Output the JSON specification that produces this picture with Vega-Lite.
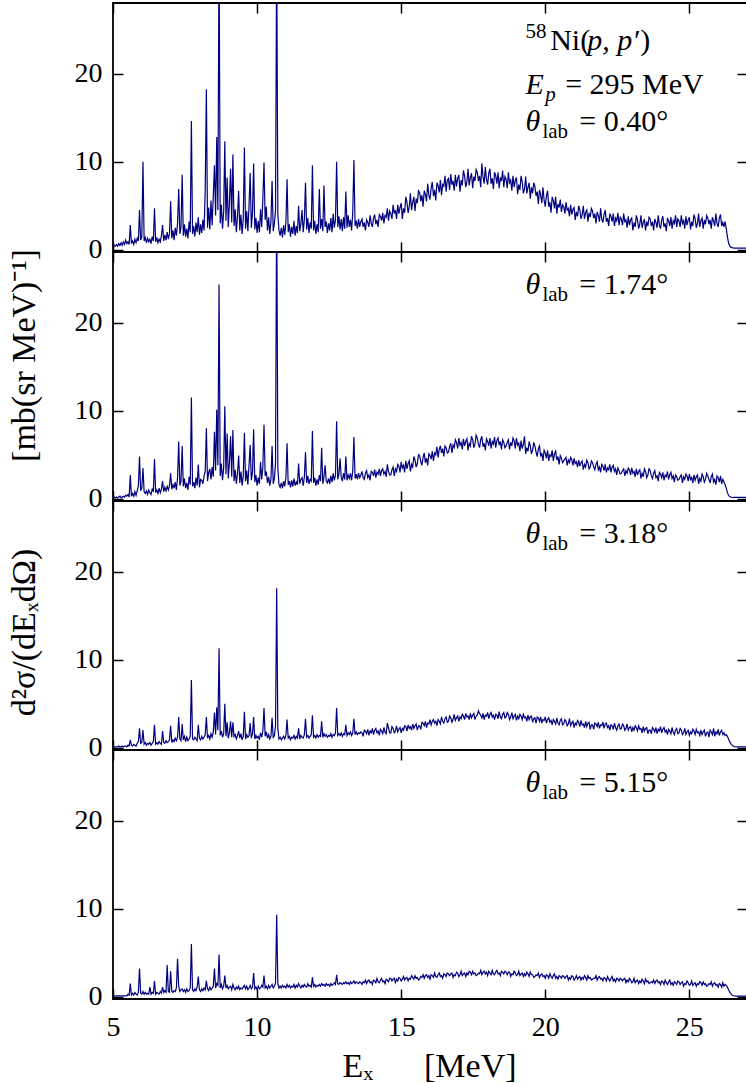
{
"$schema": "https://vega.github.io/schema/vega-lite/v6.json",
"padding": {"left": 6, "top": 1, "right": 1, "bottom": 0},
"bounds": "flush",
"spacing": 0,
"config": {
"font": "Liberation Serif",
"view": {"stroke": "#000", "strokeWidth": 1.8},
"style": {"guide-label": {"font": "Liberation Serif"}, "guide-title": {"font": "Liberation Serif"}},
"axis": {"domain": false, "grid": false, "tickSize": -10, "tickWidth": 1.5, "tickColor": "#000", "labelFont": "Liberation Serif", "labelFontSize": 28, "labelColor": "#000", "labelFlush": false, "titleFont": "Liberation Serif", "titleFontSize": 34, "titleFontWeight": "normal", "titleColor": "#000"},
"text": {"font": "Liberation Serif", "fontSize": 30, "align": "left", "baseline": "alphabetic", "color": "#000"}
},
"datasets": {
"spec": [
{"E":5.00,"a":0.3,"b":0.1,"c":0.1,"d":0.1},{"E":5.04,"a":0.5,"b":0.2,"c":0.1,"d":0.1},{"E":5.08,"a":0.4,"b":0.1,"c":0.1,"d":0.1},{"E":5.12,"a":0.6,"b":0.2,"c":0.1,"d":0.1},{"E":5.16,"a":0.4,"b":0.1,"c":0.1,"d":0.1},{"E":5.20,"a":0.7,"b":0.2,"c":0.2,"d":0.1},{"E":5.24,"a":0.5,"b":0.3,"c":0.1,"d":0.1},{"E":5.28,"a":0.8,"b":0.1,"c":0.1,"d":0.1},{"E":5.32,"a":0.5,"b":0.2,"c":0.2,"d":0.1},{"E":5.36,"a":0.9,"b":0.3,"c":0.1,"d":0.1},
{"E":5.40,"a":0.6,"b":0.2,"c":0.2,"d":0.1},{"E":5.44,"a":1.1,"b":0.4,"c":0.2,"d":0.1},{"E":5.48,"a":0.7,"b":0.3,"c":0.1,"d":0.1},{"E":5.52,"a":0.9,"b":0.5,"c":0.3,"d":0.3},{"E":5.56,"a":0.6,"b":0.2,"c":0.2,"d":0.2},{"E":5.60,"a":2.8,"b":2.7,"c":0.9,"d":1.5},{"E":5.64,"a":0.7,"b":0.3,"c":0.3,"d":0.2},{"E":5.68,"a":1.0,"b":0.6,"c":0.2,"d":0.4},{"E":5.72,"a":0.6,"b":0.3,"c":0.4,"d":0.2},{"E":5.76,"a":1.2,"b":0.8,"c":0.3,"d":0.5},
{"E":5.80,"a":0.8,"b":0.4,"c":0.2,"d":0.3},{"E":5.84,"a":1.3,"b":0.9,"c":0.5,"d":0.2},{"E":5.88,"a":1.0,"b":1.5,"c":0.7,"d":0.5},{"E":5.92,"a":4.5,"b":4.8,"c":2.2,"d":3.2},{"E":5.96,"a":1.1,"b":0.9,"c":0.5,"d":0.4},{"E":6.00,"a":1.5,"b":1.2,"c":0.6,"d":0.3},{"E":6.04,"a":10.0,"b":3.5,"c":2.0,"d":0.6},{"E":6.08,"a":1.0,"b":0.8,"c":0.4,"d":0.3},{"E":6.12,"a":1.4,"b":0.6,"c":0.6,"d":0.5},{"E":6.16,"a":0.8,"b":0.9,"c":0.3,"d":0.3},
{"E":6.20,"a":1.3,"b":0.5,"c":0.5,"d":0.4},{"E":6.24,"a":0.9,"b":1.0,"c":0.4,"d":0.3},{"E":6.28,"a":1.2,"b":0.7,"c":0.6,"d":1.1},{"E":6.32,"a":0.7,"b":0.5,"c":0.3,"d":0.3},{"E":6.36,"a":1.5,"b":1.1,"c":0.5,"d":0.5},{"E":6.40,"a":1.0,"b":0.8,"c":0.7,"d":0.4},{"E":6.44,"a":4.7,"b":4.5,"c":2.6,"d":1.8},{"E":6.48,"a":0.9,"b":0.7,"c":0.4,"d":0.3},{"E":6.52,"a":1.4,"b":1.0,"c":0.6,"d":0.5},{"E":6.56,"a":0.8,"b":0.6,"c":0.4,"d":0.4},
{"E":6.60,"a":1.2,"b":1.2,"c":0.7,"d":0.3},{"E":6.64,"a":0.9,"b":0.7,"c":0.5,"d":0.6},{"E":6.68,"a":1.6,"b":1.1,"c":0.4,"d":0.4},{"E":6.72,"a":2.8,"b":2.0,"c":1.9,"d":1.1},{"E":6.76,"a":1.0,"b":0.8,"c":0.6,"d":0.5},{"E":6.80,"a":1.7,"b":1.3,"c":0.5,"d":0.7},{"E":6.84,"a":1.1,"b":0.9,"c":0.8,"d":0.5},{"E":6.88,"a":2.0,"b":1.4,"c":0.6,"d":3.6},{"E":6.92,"a":1.2,"b":1.0,"c":0.7,"d":0.6},{"E":6.96,"a":1.8,"b":1.5,"c":0.9,"d":0.5},
{"E":7.00,"a":5.5,"b":2.9,"c":2.5,"d":2.9},{"E":7.04,"a":1.3,"b":1.1,"c":0.6,"d":0.6},{"E":7.08,"a":2.2,"b":1.6,"c":0.9,"d":0.5},{"E":7.12,"a":1.1,"b":1.2,"c":0.7,"d":0.7},{"E":7.16,"a":2.5,"b":1.9,"c":1.1,"d":0.6},{"E":7.20,"a":1.6,"b":1.0,"c":0.8,"d":1.0},{"E":7.24,"a":3.0,"b":2.4,"c":1.2,"d":4.3},{"E":7.28,"a":6.9,"b":6.5,"c":3.5,"d":1.2},{"E":7.32,"a":1.8,"b":1.5,"c":1.0,"d":0.6},{"E":7.36,"a":2.6,"b":2.0,"c":0.8,"d":0.8},
{"E":7.40,"a":8.5,"b":6.0,"c":2.7,"d":0.9},{"E":7.44,"a":1.6,"b":1.4,"c":0.9,"d":0.6},{"E":7.48,"a":2.9,"b":2.3,"c":1.3,"d":0.8},{"E":7.52,"a":1.5,"b":1.2,"c":0.7,"d":0.5},{"E":7.56,"a":2.4,"b":1.8,"c":1.2,"d":0.9},{"E":7.60,"a":1.3,"b":1.0,"c":0.8,"d":0.6},{"E":7.64,"a":3.2,"b":2.5,"c":1.0,"d":0.7},{"E":7.68,"a":2.0,"b":1.6,"c":1.3,"d":1.0},{"E":7.72,"a":14.6,"b":11.5,"c":7.7,"d":6.0},{"E":7.76,"a":1.8,"b":1.4,"c":1.0,"d":0.8},
{"E":7.80,"a":2.7,"b":1.9,"c":0.9,"d":0.6},{"E":7.84,"a":1.5,"b":1.2,"c":1.2,"d":0.9},{"E":7.88,"a":3.1,"b":2.4,"c":1.0,"d":0.7},{"E":7.92,"a":2.0,"b":1.5,"c":0.8,"d":1.1},{"E":7.96,"a":3.7,"b":3.9,"c":2.6,"d":2.3},{"E":8.00,"a":1.7,"b":1.3,"c":1.1,"d":0.8},{"E":8.04,"a":2.9,"b":2.2,"c":0.9,"d":0.6},{"E":8.08,"a":1.9,"b":2.1,"c":1.3,"d":0.9},{"E":8.12,"a":3.4,"b":1.7,"c":1.0,"d":0.7},{"E":8.16,"a":2.2,"b":2.6,"c":1.2,"d":1.0},
{"E":8.20,"a":6.7,"b":3.1,"c":1.5,"d":0.8},{"E":8.24,"a":18.2,"b":8.0,"c":3.5,"d":1.8},{"E":8.28,"a":2.5,"b":2.0,"c":1.1,"d":0.9},{"E":8.32,"a":4.8,"b":3.0,"c":1.4,"d":0.7},{"E":8.36,"a":2.3,"b":3.4,"c":1.0,"d":1.1},{"E":8.40,"a":5.6,"b":2.2,"c":1.6,"d":0.8},{"E":8.44,"a":2.8,"b":3.6,"c":1.2,"d":1.0},{"E":8.48,"a":6.2,"b":2.5,"c":1.8,"d":1.2},{"E":8.52,"a":9.6,"b":7.6,"c":4.0,"d":3.2},{"E":8.56,"a":3.9,"b":3.2,"c":1.5,"d":1.0},
{"E":8.60,"a":12.8,"b":10.1,"c":4.6,"d":1.5},{"E":8.64,"a":4.5,"b":3.8,"c":2.0,"d":1.3},{"E":8.68,"a":35,"b":24.3,"c":11.3,"d":4.8},{"E":8.72,"a":3.0,"b":2.6,"c":1.4,"d":1.0},{"E":8.76,"a":5.1,"b":4.0,"c":1.9,"d":1.4},{"E":8.80,"a":2.4,"b":2.1,"c":1.2,"d":0.9},{"E":8.84,"a":4.3,"b":3.5,"c":1.6,"d":1.2},{"E":8.88,"a":12.3,"b":10.5,"c":5.0,"d":2.4},{"E":8.92,"a":3.3,"b":2.8,"c":1.3,"d":1.0},{"E":8.96,"a":8.2,"b":7.4,"c":2.9,"d":1.3},
{"E":9.00,"a":2.6,"b":2.3,"c":1.1,"d":0.9},{"E":9.04,"a":5.4,"b":4.1,"c":1.7,"d":1.1},{"E":9.08,"a":9.2,"b":7.1,"c":3.0,"d":1.2},{"E":9.12,"a":3.1,"b":2.5,"c":1.2,"d":0.8},{"E":9.16,"a":10.8,"b":7.8,"c":2.9,"d":1.4},{"E":9.20,"a":2.7,"b":2.0,"c":1.3,"d":1.0},{"E":9.24,"a":4.6,"b":3.3,"c":1.5,"d":0.8},{"E":9.28,"a":2.0,"b":1.7,"c":1.0,"d":1.1},{"E":9.32,"a":3.8,"b":2.9,"c":1.4,"d":0.9},{"E":9.36,"a":6.7,"b":4.9,"c":1.9,"d":1.2},
{"E":9.40,"a":2.2,"b":1.8,"c":1.1,"d":0.8},{"E":9.44,"a":4.0,"b":3.1,"c":1.6,"d":1.0},{"E":9.48,"a":1.8,"b":1.5,"c":0.9,"d":0.9},{"E":9.52,"a":3.5,"b":2.6,"c":1.3,"d":1.1},{"E":9.56,"a":11.6,"b":7.5,"c":4.1,"d":1.3},{"E":9.60,"a":2.4,"b":2.0,"c":1.0,"d":0.9},{"E":9.64,"a":4.4,"b":3.2,"c":1.5,"d":1.2},{"E":9.68,"a":2.1,"b":1.6,"c":1.2,"d":0.8},{"E":9.72,"a":5.0,"b":3.8,"c":1.4,"d":1.0},{"E":9.76,"a":8.7,"b":6.1,"c":2.8,"d":1.3},
{"E":9.80,"a":2.5,"b":2.1,"c":1.1,"d":0.9},{"E":9.84,"a":4.2,"b":3.0,"c":1.6,"d":1.1},{"E":9.88,"a":9.8,"b":7.9,"c":3.5,"d":2.7},{"E":9.92,"a":2.3,"b":1.9,"c":1.0,"d":0.9},{"E":9.96,"a":3.6,"b":2.7,"c":1.4,"d":1.1},{"E":10.00,"a":1.9,"b":1.5,"c":1.1,"d":0.8},{"E":10.04,"a":3.3,"b":2.4,"c":1.3,"d":1.2},{"E":10.08,"a":2.0,"b":1.7,"c":0.9,"d":0.9},{"E":10.12,"a":4.6,"b":4.2,"c":1.7,"d":1.0},{"E":10.16,"a":2.6,"b":2.2,"c":1.2,"d":1.3},
{"E":10.20,"a":5.8,"b":3.6,"c":1.9,"d":1.1},{"E":10.24,"a":9.9,"b":8.4,"c":4.5,"d":2.4},{"E":10.28,"a":3.4,"b":2.6,"c":1.3,"d":1.0},{"E":10.32,"a":4.9,"b":3.1,"c":1.8,"d":1.2},{"E":10.36,"a":2.2,"b":1.8,"c":1.1,"d":0.9},{"E":10.40,"a":3.7,"b":2.5,"c":1.5,"d":1.3},{"E":10.44,"a":1.8,"b":1.5,"c":1.0,"d":1.0},{"E":10.48,"a":3.2,"b":2.2,"c":1.3,"d":1.2},{"E":10.52,"a":7.8,"b":6.0,"c":3.4,"d":1.4},{"E":10.56,"a":2.1,"b":1.7,"c":1.1,"d":1.0},
{"E":10.60,"a":3.0,"b":2.3,"c":1.4,"d":1.2},{"E":10.64,"a":4.5,"b":4.0,"c":2.5,"d":1.6},{"E":10.68,"a":35,"b":35,"c":18.1,"d":9.3},{"E":10.72,"a":4.0,"b":3.5,"c":2.2,"d":1.5},{"E":10.76,"a":2.2,"b":1.6,"c":1.0,"d":1.0},{"E":10.80,"a":1.6,"b":1.3,"c":1.2,"d":1.2},{"E":10.84,"a":2.5,"b":1.8,"c":0.9,"d":1.0},{"E":10.88,"a":1.4,"b":1.2,"c":1.1,"d":1.3},{"E":10.92,"a":2.8,"b":2.0,"c":1.3,"d":1.1},{"E":10.96,"a":1.7,"b":1.4,"c":1.0,"d":1.2},
{"E":11.00,"a":3.1,"b":2.4,"c":1.4,"d":1.0},{"E":11.04,"a":8.0,"b":6.3,"c":3.2,"d":1.4},{"E":11.08,"a":2.0,"b":1.6,"c":1.1,"d":1.1},{"E":11.12,"a":2.9,"b":2.0,"c":1.3,"d":1.3},{"E":11.16,"a":1.5,"b":1.3,"c":0.9,"d":1.0},{"E":11.20,"a":2.6,"b":2.1,"c":1.2,"d":1.2},{"E":11.24,"a":1.8,"b":1.4,"c":1.1,"d":1.1},{"E":11.28,"a":3.3,"b":2.3,"c":1.4,"d":1.4},{"E":11.32,"a":1.6,"b":1.5,"c":1.0,"d":1.0},{"E":11.36,"a":2.7,"b":1.9,"c":1.3,"d":1.3},
{"E":11.40,"a":1.9,"b":1.6,"c":1.1,"d":1.1},{"E":11.44,"a":5.0,"b":4.0,"c":2.2,"d":1.5},{"E":11.48,"a":2.1,"b":1.7,"c":1.0,"d":1.2},{"E":11.52,"a":3.0,"b":2.2,"c":1.4,"d":1.0},{"E":11.56,"a":4.5,"b":2.4,"c":1.2,"d":1.3},{"E":11.60,"a":2.0,"b":1.5,"c":1.1,"d":1.1},{"E":11.64,"a":3.4,"b":2.5,"c":1.5,"d":1.4},{"E":11.68,"a":7.6,"b":5.3,"c":3.3,"d":1.2},{"E":11.72,"a":2.3,"b":1.8,"c":1.2,"d":1.1},{"E":11.76,"a":3.6,"b":2.6,"c":1.4,"d":1.5},
{"E":11.80,"a":1.9,"b":1.7,"c":1.1,"d":1.2},{"E":11.84,"a":3.1,"b":2.2,"c":1.3,"d":1.3},{"E":11.88,"a":2.4,"b":2.0,"c":1.5,"d":1.1},{"E":11.92,"a":9.6,"b":7.7,"c":3.7,"d":2.2},{"E":11.96,"a":2.2,"b":1.8,"c":1.2,"d":1.2},{"E":12.00,"a":3.3,"b":2.4,"c":1.4,"d":1.4},{"E":12.04,"a":1.8,"b":1.5,"c":1.1,"d":1.1},{"E":12.08,"a":2.9,"b":2.2,"c":1.5,"d":1.3},{"E":12.12,"a":2.0,"b":1.6,"c":1.2,"d":1.2},{"E":12.16,"a":6.9,"b":2.7,"c":1.4,"d":1.4},
{"E":12.20,"a":2.4,"b":2.0,"c":1.3,"d":1.2},{"E":12.24,"a":3.5,"b":5.8,"c":3.0,"d":1.5},{"E":12.28,"a":2.1,"b":1.7,"c":1.2,"d":1.3},{"E":12.32,"a":7.3,"b":2.5,"c":1.6,"d":1.4},{"E":12.36,"a":2.6,"b":3.8,"c":1.3,"d":1.2},{"E":12.40,"a":3.2,"b":2.0,"c":1.5,"d":1.5},{"E":12.44,"a":1.9,"b":1.8,"c":1.2,"d":1.3},{"E":12.48,"a":3.0,"b":2.3,"c":1.4,"d":1.4},{"E":12.52,"a":2.2,"b":1.7,"c":1.3,"d":1.2},{"E":12.56,"a":3.6,"b":2.6,"c":1.6,"d":1.5},
{"E":12.60,"a":2.0,"b":1.9,"c":1.2,"d":1.3},{"E":12.64,"a":4.1,"b":2.9,"c":1.5,"d":1.4},{"E":12.68,"a":2.5,"b":2.1,"c":1.4,"d":1.6},{"E":12.72,"a":3.4,"b":2.7,"c":1.7,"d":1.4},{"E":12.76,"a":10.0,"b":8.8,"c":4.5,"d":2.5},{"E":12.80,"a":2.6,"b":2.2,"c":1.4,"d":1.5},{"E":12.84,"a":3.8,"b":2.8,"c":1.6,"d":1.4},{"E":12.88,"a":2.3,"b":4.6,"c":1.4,"d":1.6},{"E":12.92,"a":3.5,"b":2.4,"c":1.7,"d":1.5},{"E":12.96,"a":2.1,"b":2.0,"c":1.3,"d":1.4},
{"E":13.00,"a":3.7,"b":2.9,"c":1.6,"d":1.6},{"E":13.04,"a":2.4,"b":2.2,"c":1.5,"d":1.5},{"E":13.08,"a":6.6,"b":4.8,"c":2.6,"d":1.7},{"E":13.12,"a":2.5,"b":2.1,"c":1.4,"d":1.5},{"E":13.16,"a":3.9,"b":2.7,"c":1.7,"d":1.6},{"E":13.20,"a":2.6,"b":2.3,"c":1.5,"d":1.4},{"E":13.24,"a":3.4,"b":2.9,"c":1.8,"d":1.7},{"E":13.28,"a":2.2,"b":2.1,"c":1.4,"d":1.5},{"E":13.32,"a":4.3,"b":3.2,"c":1.7,"d":1.6},{"E":13.36,"a":10.2,"b":7.0,"c":3.3,"d":1.8},
{"E":13.40,"a":2.7,"b":2.3,"c":1.5,"d":1.5},{"E":13.44,"a":3.3,"b":2.8,"c":1.8,"d":1.7},{"E":13.48,"a":2.4,"b":2.2,"c":1.5,"d":1.6},{"E":13.52,"a":3.5,"b":2.9,"c":1.7,"d":1.5},{"E":13.56,"a":2.6,"b":2.4,"c":1.6,"d":1.7},{"E":13.60,"a":3.2,"b":2.7,"c":1.8,"d":1.6},
{"E":13.64,"a":3.5,"b":3.1,"c":1.7,"d":1.4},{"E":13.68,"a":2.6,"b":2.4,"c":1.3,"d":1.7},{"E":13.72,"a":3.1,"b":2.2,"c":2.0,"d":1.6},{"E":13.76,"a":2.2,"b":2.9,"c":1.9,"d":1.9},{"E":13.80,"a":3.4,"b":3.2,"c":1.6,"d":1.5},{"E":13.84,"a":3.1,"b":2.4,"c":2.1,"d":1.8},{"E":13.88,"a":2.6,"b":2.7,"c":1.4,"d":1.9},{"E":13.92,"a":3.9,"b":2.1,"c":1.9,"d":1.6},{"E":13.96,"a":3.0,"b":3.1,"c":1.7,"d":1.7},{"E":14.00,"a":2.6,"b":3.0,"c":2.2,"d":1.4},
{"E":14.04,"a":3.6,"b":2.6,"c":1.5,"d":1.9},{"E":14.08,"a":4.0,"b":3.3,"c":2.0,"d":1.8},{"E":14.12,"a":2.9,"b":2.4,"c":2.2,"d":1.6},{"E":14.16,"a":3.4,"b":3.0,"c":1.7,"d":2.1},{"E":14.20,"a":2.6,"b":2.8,"c":1.9,"d":1.7},{"E":14.24,"a":4.0,"b":3.4,"c":1.4,"d":1.6},{"E":14.28,"a":3.8,"b":2.6,"c":2.1,"d":1.9},{"E":14.32,"a":3.3,"b":3.2,"c":1.9,"d":2.1},{"E":14.36,"a":4.2,"b":3.4,"c":1.6,"d":1.7},{"E":14.40,"a":3.0,"b":2.8,"c":2.3,"d":1.8},
{"E":14.44,"a":3.9,"b":3.1,"c":1.8,"d":1.5},{"E":14.48,"a":3.7,"b":2.5,"c":1.6,"d":2.0},{"E":14.52,"a":4.7,"b":3.9,"c":2.8,"d":1.9},{"E":14.56,"a":3.3,"b":3.1,"c":2.3,"d":1.7},{"E":14.60,"a":4.4,"b":2.7,"c":1.7,"d":2.1},{"E":14.64,"a":4.1,"b":2.7,"c":1.7,"d":2.1},{"E":14.68,"a":3.5,"b":3.3,"c":2.4,"d":1.8},{"E":14.72,"a":5.1,"b":3.6,"c":2.2,"d":2.0},{"E":14.76,"a":4.1,"b":2.6,"c":1.7,"d":2.1},{"E":14.80,"a":4.5,"b":3.4,"c":1.9,"d":1.6},
{"E":14.84,"a":3.5,"b":3.1,"c":2.5,"d":2.0},{"E":14.88,"a":5.1,"b":3.9,"c":1.8,"d":1.8},{"E":14.92,"a":4.1,"b":3.7,"c":2.1,"d":2.2},{"E":14.96,"a":4.8,"b":3.0,"c":2.3,"d":2.1},{"E":15.00,"a":5.3,"b":4.2,"c":1.7,"d":1.8},{"E":15.04,"a":3.5,"b":3.5,"c":2.2,"d":2.0},{"E":15.08,"a":4.7,"b":3.8,"c":2.0,"d":2.3},{"E":15.12,"a":4.2,"b":3.0,"c":2.5,"d":1.9},{"E":15.16,"a":6.0,"b":4.3,"c":2.4,"d":2.1},{"E":15.20,"a":5.4,"b":3.4,"c":1.9,"d":2.2},
{"E":15.24,"a":4.2,"b":4.0,"c":2.6,"d":1.8},{"E":15.28,"a":4.9,"b":4.3,"c":2.2,"d":2.1},{"E":15.32,"a":6.4,"b":3.1,"c":2.4,"d":2.0},{"E":15.36,"a":4.5,"b":3.9,"c":2.0,"d":2.4},{"E":15.40,"a":5.4,"b":3.6,"c":2.7,"d":2.2},{"E":15.44,"a":6.0,"b":4.8,"c":2.2,"d":2.0},{"E":15.48,"a":4.4,"b":4.4,"c":2.5,"d":2.4},{"E":15.52,"a":5.8,"b":3.6,"c":2.7,"d":2.1},{"E":15.56,"a":5.3,"b":4.0,"c":2.0,"d":2.2},{"E":15.60,"a":6.7,"b":5.0,"c":2.5,"d":1.9},
{"E":15.64,"a":6.5,"b":4.9,"c":2.5,"d":2.0},{"E":15.68,"a":5.5,"b":4.2,"c":2.1,"d":2.3},{"E":15.72,"a":6.2,"b":3.8,"c":2.9,"d":2.2},{"E":15.76,"a":4.9,"b":4.7,"c":2.8,"d":2.5},{"E":15.80,"a":6.7,"b":5.2,"c":2.5,"d":2.1},{"E":15.84,"a":6.3,"b":4.1,"c":3.0,"d":2.4},{"E":15.88,"a":5.5,"b":4.6,"c":2.3,"d":2.5},{"E":15.92,"a":7.5,"b":3.8,"c":2.8,"d":2.2},{"E":15.96,"a":6.2,"b":5.1,"c":2.7,"d":2.4},{"E":16.00,"a":5.7,"b":4.9,"c":3.2,"d":2.0},
{"E":16.04,"a":7.0,"b":4.5,"c":2.6,"d":2.5},{"E":16.08,"a":7.7,"b":5.4,"c":3.0,"d":2.4},{"E":16.12,"a":6.1,"b":4.3,"c":3.2,"d":2.2},{"E":16.16,"a":6.8,"b":5.2,"c":2.8,"d":2.7},{"E":16.20,"a":5.6,"b":5.0,"c":3.0,"d":2.3},{"E":16.24,"a":7.6,"b":5.9,"c":2.5,"d":2.2},{"E":16.28,"a":7.3,"b":4.7,"c":3.2,"d":2.5},{"E":16.32,"a":6.5,"b":5.6,"c":3.0,"d":2.7},{"E":16.36,"a":7.9,"b":6.0,"c":2.7,"d":2.3},{"E":16.40,"a":6.2,"b":5.2,"c":3.5,"d":2.4},
{"E":16.44,"a":7.4,"b":5.7,"c":3.0,"d":2.1},{"E":16.48,"a":7.2,"b":4.8,"c":2.8,"d":2.6},{"E":16.52,"a":8.4,"b":6.0,"c":3.3,"d":2.5},{"E":16.56,"a":6.6,"b":5.8,"c":3.5,"d":2.3},{"E":16.60,"a":7.9,"b":5.2,"c":2.9,"d":2.7},{"E":16.64,"a":8.1,"b":5.3,"c":3.0,"d":2.6},{"E":16.68,"a":6.8,"b":5.9,"c":3.6,"d":2.4},{"E":16.72,"a":8.6,"b":6.3,"c":3.4,"d":2.6},{"E":16.76,"a":7.4,"b":5.2,"c":2.9,"d":2.7},{"E":16.80,"a":7.8,"b":6.1,"c":3.2,"d":2.2},
{"E":16.84,"a":6.7,"b":5.8,"c":3.8,"d":2.5},{"E":16.88,"a":8.5,"b":6.7,"c":3.1,"d":2.4},{"E":16.92,"a":7.2,"b":6.4,"c":3.4,"d":2.8},{"E":16.96,"a":8.1,"b":5.7,"c":3.6,"d":2.7},{"E":17.00,"a":8.5,"b":6.9,"c":3.0,"d":2.3},{"E":17.04,"a":6.6,"b":6.1,"c":3.5,"d":2.5},{"E":17.08,"a":7.9,"b":6.4,"c":3.3,"d":2.9},{"E":17.12,"a":7.3,"b":5.6,"c":3.8,"d":2.4},{"E":17.16,"a":9.0,"b":6.8,"c":3.6,"d":2.6},{"E":17.20,"a":8.4,"b":6.0,"c":3.2,"d":2.7},
{"E":17.24,"a":7.1,"b":6.5,"c":3.9,"d":2.3},{"E":17.28,"a":7.7,"b":6.8,"c":3.5,"d":2.7},{"E":17.32,"a":9.2,"b":5.5,"c":3.6,"d":2.5},{"E":17.36,"a":7.3,"b":6.3,"c":3.2,"d":2.9},{"E":17.40,"a":8.2,"b":6.0,"c":3.9,"d":2.8},{"E":17.44,"a":8.7,"b":7.1,"c":3.4,"d":2.5},{"E":17.48,"a":7.0,"b":6.7,"c":3.7,"d":2.9},{"E":17.52,"a":8.3,"b":5.8,"c":3.9,"d":2.6},{"E":17.56,"a":7.8,"b":6.2,"c":3.2,"d":2.7},{"E":17.60,"a":9.1,"b":7.2,"c":3.6,"d":2.4},
{"E":17.64,"a":8.8,"b":6.9,"c":3.7,"d":2.5},{"E":17.68,"a":7.8,"b":6.2,"c":4.2,"d":2.7},{"E":17.72,"a":8.4,"b":5.8,"c":3.9,"d":2.6},{"E":17.76,"a":7.1,"b":6.7,"c":3.7,"d":3.0},{"E":17.80,"a":9.8,"b":7.1,"c":3.4,"d":2.5},{"E":17.84,"a":8.3,"b":5.9,"c":3.9,"d":2.8},{"E":17.88,"a":7.5,"b":6.3,"c":3.2,"d":2.9},{"E":17.92,"a":9.4,"b":5.5,"c":3.7,"d":2.6},{"E":17.96,"a":8.0,"b":6.8,"c":3.6,"d":2.8},{"E":18.00,"a":7.4,"b":6.5,"c":4.0,"d":2.4},
{"E":18.04,"a":8.7,"b":6.0,"c":3.3,"d":2.9},{"E":18.08,"a":9.2,"b":6.9,"c":3.8,"d":2.7},{"E":18.12,"a":7.5,"b":5.7,"c":4.0,"d":2.5},{"E":18.16,"a":8.1,"b":6.5,"c":3.5,"d":3.0},{"E":18.20,"a":6.9,"b":6.2,"c":3.7,"d":2.6},{"E":18.24,"a":8.8,"b":7.0,"c":3.2,"d":2.5},{"E":18.28,"a":8.4,"b":5.8,"c":3.8,"d":2.8},{"E":18.32,"a":7.5,"b":6.6,"c":3.7,"d":3.0},{"E":18.36,"a":8.8,"b":6.9,"c":3.3,"d":2.6},{"E":18.40,"a":7.0,"b":6.1,"c":4.1,"d":2.7},
{"E":18.44,"a":8.2,"b":6.5,"c":3.5,"d":2.4},{"E":18.48,"a":7.8,"b":5.6,"c":3.3,"d":2.9},{"E":18.52,"a":9.0,"b":6.7,"c":3.8,"d":2.8},{"E":18.56,"a":7.1,"b":6.4,"c":4.0,"d":2.6},{"E":18.60,"a":8.3,"b":5.8,"c":3.4,"d":2.9},{"E":18.64,"a":8.0,"b":6.0,"c":3.5,"d":2.8},{"E":18.68,"a":7.0,"b":6.4,"c":4.0,"d":2.5},{"E":18.72,"a":8.8,"b":6.7,"c":3.8,"d":2.8},{"E":18.76,"a":7.6,"b":5.6,"c":3.2,"d":2.8},{"E":18.80,"a":7.9,"b":6.4,"c":3.5,"d":2.3},
{"E":18.84,"a":6.7,"b":6.0,"c":4.0,"d":2.6},{"E":18.88,"a":8.4,"b":6.9,"c":3.3,"d":2.5},{"E":18.92,"a":7.1,"b":6.6,"c":3.6,"d":2.9},{"E":18.96,"a":7.9,"b":5.7,"c":3.8,"d":2.7},{"E":19.00,"a":8.2,"b":6.9,"c":3.1,"d":2.4},{"E":19.04,"a":6.3,"b":6.1,"c":3.6,"d":2.5},{"E":19.08,"a":7.4,"b":6.3,"c":3.3,"d":2.9},{"E":19.12,"a":6.8,"b":5.4,"c":3.8,"d":2.4},{"E":19.16,"a":8.4,"b":6.6,"c":3.6,"d":2.6},{"E":19.20,"a":7.7,"b":5.7,"c":3.2,"d":2.7},
{"E":19.24,"a":6.4,"b":6.2,"c":3.8,"d":2.3},{"E":19.28,"a":6.9,"b":7.1,"c":3.4,"d":2.6},{"E":19.32,"a":8.3,"b":5.1,"c":3.5,"d":2.4},{"E":19.36,"a":6.4,"b":5.8,"c":3.0,"d":2.8},{"E":19.40,"a":7.1,"b":5.4,"c":3.7,"d":2.6},{"E":19.44,"a":7.6,"b":6.5,"c":3.2,"d":2.3},{"E":19.48,"a":5.8,"b":6.0,"c":3.5,"d":2.8},{"E":19.52,"a":7.1,"b":5.1,"c":3.6,"d":2.5},{"E":19.56,"a":6.4,"b":5.5,"c":2.9,"d":2.5},{"E":19.60,"a":7.6,"b":6.4,"c":3.3,"d":2.2},
{"E":19.64,"a":7.2,"b":6.0,"c":3.4,"d":2.3},{"E":19.68,"a":6.1,"b":5.3,"c":2.8,"d":2.5},{"E":19.72,"a":6.6,"b":4.8,"c":3.5,"d":2.4},{"E":19.76,"a":5.2,"b":5.7,"c":3.4,"d":2.7},{"E":19.80,"a":6.8,"b":6.0,"c":3.0,"d":2.2},{"E":19.84,"a":6.2,"b":4.8,"c":3.5,"d":2.5},{"E":19.88,"a":5.3,"b":5.2,"c":2.8,"d":2.6},{"E":19.92,"a":7.1,"b":4.3,"c":3.2,"d":2.3},{"E":19.96,"a":5.6,"b":5.5,"c":3.1,"d":2.4},{"E":20.00,"a":4.9,"b":5.2,"c":3.5,"d":2.1},
{"E":20.04,"a":6.1,"b":4.6,"c":2.8,"d":2.5},{"E":20.08,"a":6.7,"b":5.5,"c":3.2,"d":2.4},{"E":20.12,"a":4.9,"b":4.3,"c":3.4,"d":2.1},{"E":20.16,"a":5.4,"b":5.0,"c":2.9,"d":2.6},{"E":20.20,"a":4.2,"b":4.8,"c":3.1,"d":2.3},{"E":20.24,"a":6.0,"b":5.5,"c":2.6,"d":2.1},{"E":20.28,"a":5.6,"b":4.3,"c":3.2,"d":2.4},{"E":20.32,"a":4.7,"b":5.1,"c":3.0,"d":2.6},{"E":20.36,"a":6.0,"b":5.4,"c":2.7,"d":2.1},{"E":20.40,"a":4.1,"b":4.4,"c":3.4,"d":2.3},
{"E":20.44,"a":5.2,"b":4.8,"c":2.8,"d":2.0},{"E":20.48,"a":4.8,"b":3.9,"c":2.6,"d":2.4},{"E":20.52,"a":5.7,"b":4.9,"c":3.1,"d":2.3},{"E":20.56,"a":4.3,"b":4.6,"c":3.3,"d":2.1},{"E":20.60,"a":5.1,"b":4.1,"c":2.6,"d":2.4},{"E":20.64,"a":4.9,"b":4.3,"c":2.7,"d":2.3},{"E":20.68,"a":4.1,"b":4.5,"c":3.2,"d":2.1},{"E":20.72,"a":5.4,"b":4.7,"c":3.0,"d":2.3},{"E":20.76,"a":4.5,"b":3.8,"c":2.5,"d":2.4},{"E":20.80,"a":4.7,"b":4.4,"c":2.7,"d":1.9},
{"E":20.84,"a":3.8,"b":4.1,"c":3.3,"d":2.2},{"E":20.88,"a":5.1,"b":4.7,"c":2.5,"d":2.0},{"E":20.92,"a":4.0,"b":4.4,"c":2.8,"d":2.4},{"E":20.96,"a":4.6,"b":3.8,"c":3.0,"d":2.3},{"E":21.00,"a":4.8,"b":4.6,"c":2.3,"d":1.9},{"E":21.04,"a":3.4,"b":4.0,"c":2.8,"d":2.1},{"E":21.08,"a":4.3,"b":4.2,"c":2.6,"d":2.4},{"E":21.12,"a":3.8,"b":3.6,"c":3.1,"d":2.0},{"E":21.16,"a":5.0,"b":4.4,"c":2.9,"d":2.2},{"E":21.20,"a":4.5,"b":3.7,"c":2.4,"d":2.3},
{"E":21.24,"a":3.5,"b":4.1,"c":3.1,"d":1.9},{"E":21.28,"a":4.0,"b":4.3,"c":2.6,"d":2.2},{"E":21.32,"a":5.0,"b":3.3,"c":2.7,"d":2.0},{"E":21.36,"a":3.5,"b":3.9,"c":2.3,"d":2.4},{"E":21.40,"a":4.2,"b":3.6,"c":3.0,"d":2.2},{"E":21.44,"a":4.5,"b":4.4,"c":2.4,"d":1.9},{"E":21.48,"a":3.2,"b":4.1,"c":2.8,"d":2.4},{"E":21.52,"a":4.2,"b":3.4,"c":2.9,"d":2.1},{"E":21.56,"a":3.7,"b":3.6,"c":2.1,"d":2.2},{"E":21.60,"a":4.7,"b":4.3,"c":2.6,"d":1.9},
{"E":21.64,"a":4.4,"b":4.1,"c":2.6,"d":2.0},{"E":21.68,"a":3.6,"b":3.6,"c":2.1,"d":2.1},{"E":21.72,"a":4.1,"b":3.3,"c":2.8,"d":2.1},{"E":21.76,"a":3.0,"b":3.9,"c":2.7,"d":2.4},{"E":21.80,"a":4.3,"b":4.2,"c":2.4,"d":1.9},{"E":21.84,"a":3.9,"b":3.3,"c":2.9,"d":2.2},{"E":21.88,"a":3.2,"b":3.6,"c":2.2,"d":2.3},{"E":21.92,"a":4.7,"b":3.0,"c":2.6,"d":2.0},{"E":21.96,"a":3.5,"b":3.9,"c":2.5,"d":2.1},{"E":22.00,"a":3.1,"b":3.7,"c":2.9,"d":1.8},
{"E":22.04,"a":4.0,"b":3.2,"c":2.2,"d":2.2},{"E":22.08,"a":4.5,"b":3.9,"c":2.7,"d":2.1},{"E":22.12,"a":3.2,"b":3.0,"c":2.8,"d":1.8},{"E":22.16,"a":3.6,"b":3.5,"c":2.3,"d":2.3},{"E":22.20,"a":2.7,"b":3.3,"c":2.5,"d":2.0},{"E":22.24,"a":4.1,"b":3.9,"c":2.0,"d":1.8},{"E":22.28,"a":3.8,"b":3.0,"c":2.6,"d":2.1},{"E":22.32,"a":3.2,"b":3.6,"c":2.5,"d":2.3},{"E":22.36,"a":4.1,"b":3.8,"c":2.1,"d":1.8},{"E":22.40,"a":2.7,"b":3.1,"c":2.8,"d":2.0},
{"E":22.44,"a":3.6,"b":3.4,"c":2.3,"d":1.7},{"E":22.48,"a":3.3,"b":2.7,"c":2.0,"d":2.1},{"E":22.52,"a":4.2,"b":3.5,"c":2.5,"d":2.0},{"E":22.56,"a":2.8,"b":3.2,"c":2.7,"d":1.8},{"E":22.60,"a":3.7,"b":2.8,"c":2.1,"d":2.1},{"E":22.64,"a":3.5,"b":2.9,"c":2.2,"d":2.0},{"E":22.68,"a":2.8,"b":3.2,"c":2.7,"d":1.8},{"E":22.72,"a":4.1,"b":3.4,"c":2.5,"d":2.0},{"E":22.76,"a":3.2,"b":2.6,"c":2.0,"d":2.1},{"E":22.80,"a":3.4,"b":3.2,"c":2.2,"d":1.6},
{"E":22.84,"a":2.5,"b":2.9,"c":2.7,"d":1.9},{"E":22.88,"a":3.8,"b":3.5,"c":2.0,"d":1.7},{"E":22.92,"a":2.8,"b":3.3,"c":2.3,"d":2.1},{"E":22.96,"a":3.4,"b":2.7,"c":2.4,"d":1.9},{"E":23.00,"a":3.6,"b":3.5,"c":1.8,"d":1.6},{"E":23.04,"a":2.2,"b":2.9,"c":2.3,"d":1.7},{"E":23.08,"a":3.1,"b":3.1,"c":2.0,"d":2.1},{"E":23.12,"a":2.6,"b":2.5,"c":2.5,"d":1.6},{"E":23.16,"a":3.9,"b":3.4,"c":2.3,"d":1.8},{"E":23.20,"a":3.4,"b":2.7,"c":1.9,"d":1.9},
{"E":23.24,"a":2.4,"b":3.1,"c":2.5,"d":1.5},{"E":23.28,"a":2.9,"b":3.3,"c":2.1,"d":1.8},{"E":23.32,"a":3.9,"b":2.3,"c":2.2,"d":1.6},{"E":23.36,"a":2.5,"b":2.9,"c":1.7,"d":2.0},{"E":23.40,"a":3.1,"b":2.5,"c":2.4,"d":1.8},{"E":23.44,"a":3.5,"b":3.4,"c":1.9,"d":1.5},{"E":23.48,"a":2.2,"b":3.1,"c":2.2,"d":2.0},{"E":23.52,"a":3.2,"b":2.4,"c":2.3,"d":1.7},{"E":23.56,"a":2.7,"b":2.7,"c":1.6,"d":1.8},{"E":23.60,"a":3.7,"b":3.4,"c":2.0,"d":1.5},
{"E":23.64,"a":3.5,"b":3.2,"c":2.0,"d":1.6},{"E":23.68,"a":2.7,"b":2.6,"c":1.6,"d":1.7},{"E":23.72,"a":3.2,"b":2.3,"c":2.3,"d":1.6},{"E":23.76,"a":2.2,"b":2.9,"c":2.1,"d":1.9},{"E":23.80,"a":3.5,"b":3.2,"c":1.8,"d":1.5},{"E":23.84,"a":3.1,"b":2.4,"c":2.3,"d":1.8},{"E":23.88,"a":2.5,"b":2.6,"c":1.6,"d":1.9},{"E":23.92,"a":3.9,"b":2.0,"c":2.1,"d":1.6},{"E":23.96,"a":2.8,"b":3.0,"c":1.9,"d":1.7},{"E":24.00,"a":2.4,"b":2.8,"c":2.4,"d":1.4},
{"E":24.04,"a":3.4,"b":2.4,"c":1.7,"d":1.8},{"E":24.08,"a":3.8,"b":3.0,"c":2.1,"d":1.7},{"E":24.12,"a":2.6,"b":2.1,"c":2.3,"d":1.4},{"E":24.16,"a":3.0,"b":2.7,"c":1.8,"d":1.9},{"E":24.20,"a":2.1,"b":2.5,"c":2.0,"d":1.6},{"E":24.24,"a":3.6,"b":3.1,"c":1.5,"d":1.4},{"E":24.28,"a":3.3,"b":2.2,"c":2.1,"d":1.7},{"E":24.32,"a":2.7,"b":2.7,"c":1.9,"d":1.9},{"E":24.36,"a":3.7,"b":3.0,"c":1.6,"d":1.4},{"E":24.40,"a":2.4,"b":2.3,"c":2.3,"d":1.6},
{"E":24.44,"a":3.3,"b":2.6,"c":1.8,"d":1.3},{"E":24.48,"a":3.0,"b":1.9,"c":1.5,"d":1.7},{"E":24.52,"a":3.9,"b":2.7,"c":2.0,"d":1.6},{"E":24.56,"a":2.6,"b":2.5,"c":2.2,"d":1.4},{"E":24.60,"a":3.5,"b":2.1,"c":1.6,"d":1.8},{"E":24.64,"a":3.3,"b":2.2,"c":1.7,"d":1.7},{"E":24.68,"a":2.6,"b":2.5,"c":2.2,"d":1.4},{"E":24.72,"a":3.9,"b":2.7,"c":2.0,"d":1.6},{"E":24.76,"a":3.0,"b":1.8,"c":1.5,"d":1.7},{"E":24.80,"a":3.3,"b":2.5,"c":1.7,"d":1.2},
{"E":24.84,"a":2.4,"b":2.2,"c":2.2,"d":1.5},{"E":24.88,"a":3.8,"b":2.8,"c":1.5,"d":1.4},{"E":24.92,"a":2.8,"b":2.6,"c":1.8,"d":1.8},{"E":24.96,"a":3.4,"b":2.0,"c":2.0,"d":1.6},{"E":25.00,"a":3.7,"b":2.8,"c":1.4,"d":1.3},{"E":25.04,"a":2.3,"b":2.2,"c":1.8,"d":1.4},{"E":25.08,"a":3.2,"b":2.4,"c":1.6,"d":1.8},{"E":25.12,"a":2.7,"b":1.8,"c":2.1,"d":1.3},{"E":25.16,"a":4.0,"b":2.7,"c":1.9,"d":1.5},{"E":25.20,"a":3.5,"b":2.1,"c":1.5,"d":1.6},
{"E":25.24,"a":2.5,"b":2.5,"c":2.1,"d":1.2},{"E":25.28,"a":3.0,"b":2.7,"c":1.7,"d":1.5},{"E":25.32,"a":4.1,"b":1.7,"c":1.8,"d":1.4},{"E":25.36,"a":2.6,"b":2.3,"c":1.4,"d":1.7},{"E":25.40,"a":3.3,"b":2.0,"c":2.0,"d":1.6},{"E":25.44,"a":3.6,"b":2.8,"c":1.5,"d":1.3},{"E":25.48,"a":2.4,"b":2.5,"c":1.8,"d":1.7},{"E":25.52,"a":3.4,"b":1.9,"c":2.0,"d":1.4},{"E":25.56,"a":2.9,"b":2.2,"c":1.3,"d":1.5},{"E":25.60,"a":3.9,"b":2.9,"c":1.7,"d":1.2},
{"E":25.64,"a":3.6,"b":2.6,"c":1.8,"d":1.3},{"E":25.68,"a":2.9,"b":2.2,"c":1.2,"d":1.5},{"E":25.72,"a":3.4,"b":1.8,"c":2.0,"d":1.4},{"E":25.76,"a":2.4,"b":2.5,"c":1.8,"d":1.7},{"E":25.80,"a":3.7,"b":2.8,"c":1.5,"d":1.2},{"E":25.84,"a":3.3,"b":1.9,"c":2.2,"d":1.5},{"E":25.88,"a":2.7,"b":2.2,"c":1.3,"d":1.6},{"E":25.92,"a":4.1,"b":1.6,"c":1.8,"d":1.3},{"E":25.96,"a":3.0,"b":2.6,"c":1.6,"d":1.4},{"E":26.00,"a":2.6,"b":2.4,"c":2.1,"d":1.1},
{"E":26.04,"a":3.6,"b":1.9,"c":1.4,"d":1.5},{"E":26.08,"a":4.0,"b":2.6,"c":1.8,"d":1.4},{"E":26.12,"a":2.7,"b":1.7,"c":2.0,"d":1.1},{"E":26.16,"a":3.1,"b":2.2,"c":1.5,"d":1.6},{"E":26.20,"a":2.6,"b":1.9,"c":1.7,"d":1.2},{"E":26.24,"a":3.2,"b":1.6,"c":1.4,"d":1.4},{"E":26.28,"a":2.4,"b":1.2,"c":1.5,"d":1.3},{"E":26.32,"a":1.5,"b":0.7,"c":1.3,"d":1.1},{"E":26.36,"a":0.8,"b":0.4,"c":1.0,"d":0.8},{"E":26.40,"a":0.45,"b":0.25,"c":0.7,"d":0.55},
{"E":26.44,"a":0.3,"b":0.2,"c":0.45,"d":0.35},{"E":26.48,"a":0.25,"b":0.17,"c":0.3,"d":0.2},{"E":26.52,"a":0.22,"b":0.15,"c":0.2,"d":0.14},{"E":26.56,"a":0.2,"b":0.15,"c":0.14,"d":0.1},{"E":26.64,"a":0.2,"b":0.15,"c":0.1,"d":0.08},{"E":26.80,"a":0.2,"b":0.15,"c":0.1,"d":0.08},{"E":27.00,"a":0.2,"b":0.15,"c":0.1,"d":0.08}
],
"ann": [
{"p":"a","k":"sup","x":19.31,"y":22.7,"t":"58"},
{"p":"a","k":"rm","x":20.17,"y":22.7,"t":"Ni("},
{"p":"a","k":"it","x":21.46,"y":22.7,"t":"p, p′"},
{"p":"a","k":"rm","x":23.3,"y":22.7,"t":")"},
{"p":"a","k":"it","x":19.31,"y":17.7,"t":"E"},
{"p":"a","k":"subi","x":20.0,"y":17.7,"t":"p"},
{"p":"a","k":"rm","x":20.69,"y":17.7,"t":"= 295 MeV"},
{"p":"a","k":"it","x":19.31,"y":13.5,"t":"θ"},
{"p":"a","k":"sub","x":19.9,"y":13.5,"t":"lab"},
{"p":"a","k":"rm","x":21.18,"y":13.5,"t":"= 0.40°"},
{"p":"b","k":"it","x":19.31,"y":23.2,"t":"θ"},
{"p":"b","k":"sub","x":19.9,"y":23.2,"t":"lab"},
{"p":"b","k":"rm","x":21.18,"y":23.2,"t":"= 1.74°"},
{"p":"c","k":"it","x":19.31,"y":23.2,"t":"θ"},
{"p":"c","k":"sub","x":19.9,"y":23.2,"t":"lab"},
{"p":"c","k":"rm","x":21.18,"y":23.2,"t":"= 3.18°"},
{"p":"d","k":"it","x":19.31,"y":23.2,"t":"θ"},
{"p":"d","k":"sub","x":19.9,"y":23.2,"t":"lab"},
{"p":"d","k":"rm","x":21.18,"y":23.2,"t":"= 5.15°"}
]
},
"vconcat": [
{
"width": 634, "height": 249,
"resolve": {"scale": {"x": "independent", "y": "independent"}, "axis": {"x": "independent", "y": "independent"}},
"layer": [
{"data": {"name": "spec"}, "mark": {"type": "line", "color": "#00007f", "strokeWidth": 1.2, "clip": true},
"encoding": {"x": {"field": "E", "type": "quantitative", "scale": {"domain": [5, 27], "nice": false, "zero": false}, "axis": {"orient": "bottom", "values": [5, 10, 15, 20, 25], "labels": false, "title": null}},
"y": {"field": "a", "type": "quantitative", "scale": {"domain": [-0.25, 28], "nice": false, "zero": false}, "axis": {"orient": "left", "values": [0, 10, 20], "labelPadding": 21, "labelFont": "Liberation Serif", "title": null}}}},
{"data": {"name": "ann"}, "transform": [{"filter": "datum.p == 'a' && datum.k == 'rm'"}], "mark": {"type": "text"},
"encoding": {"x": {"field": "x", "type": "quantitative", "scale": {"domain": [5, 27], "nice": false, "zero": false}, "axis": {"orient": "top", "values": [5, 10, 15, 20, 25], "labels": false, "title": null}},
"y": {"field": "y", "type": "quantitative", "scale": {"domain": [-0.25, 28], "nice": false, "zero": false}, "axis": {"orient": "right", "values": [0, 10, 20], "labels": false, "title": null}}, "text": {"field": "t"}}},
{"data": {"name": "ann"}, "transform": [{"filter": "datum.p == 'a' && datum.k == 'it'"}], "mark": {"type": "text", "fontStyle": "italic"},
"encoding": {"x": {"field": "x", "type": "quantitative", "scale": {"domain": [5, 27], "nice": false, "zero": false}, "axis": null}, "y": {"field": "y", "type": "quantitative", "scale": {"domain": [-0.25, 28], "nice": false, "zero": false}, "axis": null}, "text": {"field": "t"}}},
{"data": {"name": "ann"}, "transform": [{"filter": "datum.p == 'a' && datum.k == 'sub'"}], "mark": {"type": "text", "fontSize": 21, "dy": 7},
"encoding": {"x": {"field": "x", "type": "quantitative", "scale": {"domain": [5, 27], "nice": false, "zero": false}, "axis": null}, "y": {"field": "y", "type": "quantitative", "scale": {"domain": [-0.25, 28], "nice": false, "zero": false}, "axis": null}, "text": {"field": "t"}}},
{"data": {"name": "ann"}, "transform": [{"filter": "datum.p == 'a' && datum.k == 'subi'"}], "mark": {"type": "text", "fontSize": 21, "dy": 7, "fontStyle": "italic"},
"encoding": {"x": {"field": "x", "type": "quantitative", "scale": {"domain": [5, 27], "nice": false, "zero": false}, "axis": null}, "y": {"field": "y", "type": "quantitative", "scale": {"domain": [-0.25, 28], "nice": false, "zero": false}, "axis": null}, "text": {"field": "t"}}},
{"data": {"name": "ann"}, "transform": [{"filter": "datum.p == 'a' && datum.k == 'sup'"}], "mark": {"type": "text", "fontSize": 21, "dy": -12},
"encoding": {"x": {"field": "x", "type": "quantitative", "scale": {"domain": [5, 27], "nice": false, "zero": false}, "axis": null}, "y": {"field": "y", "type": "quantitative", "scale": {"domain": [-0.25, 28], "nice": false, "zero": false}, "axis": null}, "text": {"field": "t"}}}
]
},
{
"width": 634, "height": 249,
"resolve": {"scale": {"x": "independent", "y": "independent"}, "axis": {"x": "independent", "y": "independent"}},
"layer": [
{"data": {"name": "spec"}, "mark": {"type": "line", "color": "#00007f", "strokeWidth": 1.2, "clip": true},
"encoding": {"x": {"field": "E", "type": "quantitative", "scale": {"domain": [5, 27], "nice": false, "zero": false}, "axis": {"orient": "bottom", "values": [5, 10, 15, 20, 25], "labels": false, "title": null}},
"y": {"field": "b", "type": "quantitative", "scale": {"domain": [-0.25, 28], "nice": false, "zero": false}, "axis": {"orient": "left", "values": [0, 10, 20], "labelPadding": 21, "labelFont": "Liberation Serif", "title": "[mb(sr MeV)⁻¹]", "titleX": -89, "titleY": 103, "titleBaseline": "middle", "titleAlign": "center", "titleAngle": -90}}}},
{"data": {"name": "ann"}, "transform": [{"filter": "datum.p == 'b' && datum.k == 'rm'"}], "mark": {"type": "text"},
"encoding": {"x": {"field": "x", "type": "quantitative", "scale": {"domain": [5, 27], "nice": false, "zero": false}, "axis": {"orient": "top", "values": [5, 10, 15, 20, 25], "labels": false, "title": null}},
"y": {"field": "y", "type": "quantitative", "scale": {"domain": [-0.25, 28], "nice": false, "zero": false}, "axis": {"orient": "right", "values": [0, 10, 20], "labels": false, "title": null}}, "text": {"field": "t"}}},
{"data": {"name": "ann"}, "transform": [{"filter": "datum.p == 'b' && datum.k == 'it'"}], "mark": {"type": "text", "fontStyle": "italic"},
"encoding": {"x": {"field": "x", "type": "quantitative", "scale": {"domain": [5, 27], "nice": false, "zero": false}, "axis": null}, "y": {"field": "y", "type": "quantitative", "scale": {"domain": [-0.25, 28], "nice": false, "zero": false}, "axis": null}, "text": {"field": "t"}}},
{"data": {"name": "ann"}, "transform": [{"filter": "datum.p == 'b' && datum.k == 'sub'"}], "mark": {"type": "text", "fontSize": 21, "dy": 7},
"encoding": {"x": {"field": "x", "type": "quantitative", "scale": {"domain": [5, 27], "nice": false, "zero": false}, "axis": null}, "y": {"field": "y", "type": "quantitative", "scale": {"domain": [-0.25, 28], "nice": false, "zero": false}, "axis": null}, "text": {"field": "t"}}}
]
},
{
"width": 634, "height": 249,
"resolve": {"scale": {"x": "independent", "y": "independent"}, "axis": {"x": "independent", "y": "independent"}},
"layer": [
{"data": {"name": "spec"}, "mark": {"type": "line", "color": "#00007f", "strokeWidth": 1.2, "clip": true},
"encoding": {"x": {"field": "E", "type": "quantitative", "scale": {"domain": [5, 27], "nice": false, "zero": false}, "axis": {"orient": "bottom", "values": [5, 10, 15, 20, 25], "labels": false, "title": null}},
"y": {"field": "c", "type": "quantitative", "scale": {"domain": [-0.25, 28], "nice": false, "zero": false}, "axis": {"orient": "left", "values": [0, 10, 20], "labelPadding": 21, "labelFont": "Liberation Serif", "title": "d²σ/(dEₓdΩ)", "titleX": -89, "titleY": 131, "titleBaseline": "middle", "titleAlign": "center", "titleAngle": -90}}}},
{"data": {"name": "ann"}, "transform": [{"filter": "datum.p == 'c' && datum.k == 'rm'"}], "mark": {"type": "text"},
"encoding": {"x": {"field": "x", "type": "quantitative", "scale": {"domain": [5, 27], "nice": false, "zero": false}, "axis": {"orient": "top", "values": [5, 10, 15, 20, 25], "labels": false, "title": null}},
"y": {"field": "y", "type": "quantitative", "scale": {"domain": [-0.25, 28], "nice": false, "zero": false}, "axis": {"orient": "right", "values": [0, 10, 20], "labels": false, "title": null}}, "text": {"field": "t"}}},
{"data": {"name": "ann"}, "transform": [{"filter": "datum.p == 'c' && datum.k == 'it'"}], "mark": {"type": "text", "fontStyle": "italic"},
"encoding": {"x": {"field": "x", "type": "quantitative", "scale": {"domain": [5, 27], "nice": false, "zero": false}, "axis": null}, "y": {"field": "y", "type": "quantitative", "scale": {"domain": [-0.25, 28], "nice": false, "zero": false}, "axis": null}, "text": {"field": "t"}}},
{"data": {"name": "ann"}, "transform": [{"filter": "datum.p == 'c' && datum.k == 'sub'"}], "mark": {"type": "text", "fontSize": 21, "dy": 7},
"encoding": {"x": {"field": "x", "type": "quantitative", "scale": {"domain": [5, 27], "nice": false, "zero": false}, "axis": null}, "y": {"field": "y", "type": "quantitative", "scale": {"domain": [-0.25, 28], "nice": false, "zero": false}, "axis": null}, "text": {"field": "t"}}}
]
},
{
"width": 634, "height": 249,
"resolve": {"scale": {"x": "independent", "y": "independent"}, "axis": {"x": "independent", "y": "independent"}},
"layer": [
{"data": {"name": "spec"}, "mark": {"type": "line", "color": "#00007f", "strokeWidth": 1.2, "clip": true},
"encoding": {"x": {"field": "E", "type": "quantitative", "scale": {"domain": [5, 27], "nice": false, "zero": false}, "axis": {"orient": "bottom", "values": [5, 10, 15, 20, 25], "labelPadding": 24, "labelFont": "Liberation Serif", "title": "Eₓ\u2003\u2002[MeV]", "titleX": 316, "titleY": 67, "titleBaseline": "middle", "titleAlign": "center"}},
"y": {"field": "d", "type": "quantitative", "scale": {"domain": [-0.25, 28], "nice": false, "zero": false}, "axis": {"orient": "left", "values": [0, 10, 20], "labelPadding": 21, "labelFont": "Liberation Serif", "title": null}}}},
{"data": {"name": "ann"}, "transform": [{"filter": "datum.p == 'd' && datum.k == 'rm'"}], "mark": {"type": "text"},
"encoding": {"x": {"field": "x", "type": "quantitative", "scale": {"domain": [5, 27], "nice": false, "zero": false}, "axis": {"orient": "top", "values": [5, 10, 15, 20, 25], "labels": false, "title": null}},
"y": {"field": "y", "type": "quantitative", "scale": {"domain": [-0.25, 28], "nice": false, "zero": false}, "axis": {"orient": "right", "values": [0, 10, 20], "labels": false, "title": null}}, "text": {"field": "t"}}},
{"data": {"name": "ann"}, "transform": [{"filter": "datum.p == 'd' && datum.k == 'it'"}], "mark": {"type": "text", "fontStyle": "italic"},
"encoding": {"x": {"field": "x", "type": "quantitative", "scale": {"domain": [5, 27], "nice": false, "zero": false}, "axis": null}, "y": {"field": "y", "type": "quantitative", "scale": {"domain": [-0.25, 28], "nice": false, "zero": false}, "axis": null}, "text": {"field": "t"}}},
{"data": {"name": "ann"}, "transform": [{"filter": "datum.p == 'd' && datum.k == 'sub'"}], "mark": {"type": "text", "fontSize": 21, "dy": 7},
"encoding": {"x": {"field": "x", "type": "quantitative", "scale": {"domain": [5, 27], "nice": false, "zero": false}, "axis": null}, "y": {"field": "y", "type": "quantitative", "scale": {"domain": [-0.25, 28], "nice": false, "zero": false}, "axis": null}, "text": {"field": "t"}}}
]
}
]
}
